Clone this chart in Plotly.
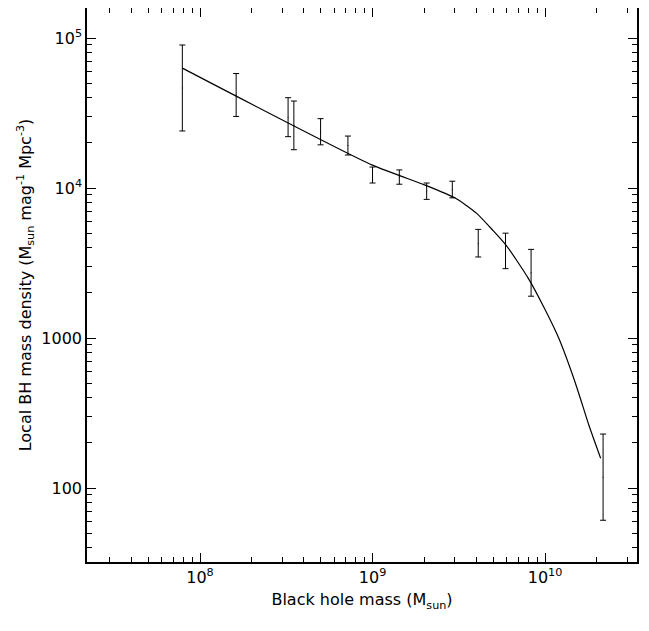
import numpy as np
import plotly.graph_objects as go

# error bar data: mass, upper, lower
mass = [7.9e7, 1.62e8, 3.24e8, 3.5e8, 5.0e8, 7.2e8, 1.0e9, 1.43e9, 2.06e9, 2.9e9, 4.1e9, 5.9e9, 8.3e9, 2.17e10]
upper = [8.98e4, 5.8e4, 4.0e4, 3.8e4, 2.9e4, 2.22e4, 1.38e4, 1.32e4, 1.08e4, 1.11e4, 5.3e3, 5.0e3, 3.9e3, 229]
lower = [2.4e4, 3.0e4, 2.2e4, 1.8e4, 1.94e4, 1.66e4, 1.08e4, 1.06e4, 8.4e3, 8.6e3, 3.47e3, 2.9e3, 1.9e3, 61]

# model curve
curve_m = [7.9e7, 1e9, 2e9, 3e9, 4e9, 5e9, 6e9, 8e9, 1e10, 1.2e10, 1.5e10, 1.8e10, 2.1e10]
curve_y = [6.3e4, 1.42e4, 1.05e4, 8.6e3, 6.8e3, 5.2e3, 4.1e3, 2.5e3, 1.55e3, 1.0e3, 5.0e2, 2.6e2, 1.58e2]

mid = np.sqrt(np.array(upper) * np.array(lower))

fig = go.Figure()
fig.add_trace(go.Scatter(
    x=mass, y=mid, mode="markers", marker=dict(size=1, color="black"),
    error_y=dict(type="data", symmetric=False, array=np.array(upper) - mid,
                 arrayminus=mid - np.array(lower), color="black", thickness=1, width=3),
    showlegend=False))
fig.add_trace(go.Scatter(x=curve_m, y=curve_y, mode="lines",
                         line=dict(color="black", width=1.2, shape="spline", smoothing=0.6),
                         showlegend=False))

font = dict(family="DejaVu Sans", size=16, color="black")
axis = dict(type="log", showline=True, linecolor="black", linewidth=1.5, mirror="allticks",
            ticks="inside", ticklen=9, tickcolor="black", showgrid=False, zeroline=False,
            automargin=False,
            minor=dict(ticks="inside", ticklen=5, tickcolor="black", dtick="D1"), tickfont=font)
fig.update_xaxes(axis, range=[7.345, 10.533], tickvals=[1e8, 1e9, 1e10],
                 ticktext=["10<sup>8</sup>", "10<sup>9</sup>", "10<sup>10</sup>"],
                 title=dict(text="Black hole mass (M<sub>sun</sub>)", font=font, standoff=8))
fig.update_yaxes(axis, range=[1.507, 5.2], tickvals=[100, 1000, 1e4, 1e5],
                 ticktext=["100", "1000", "10<sup>4</sup>", "10<sup>5</sup>"],
                 title=dict(text="Local BH mass density (M<sub>sun</sub> mag<sup>-1</sup> Mpc<sup>-3</sup>)",
                            font=font, standoff=6))
fig.update_layout(width=641, height=623, margin=dict(l=79, r=12, t=0, b=69),
                  plot_bgcolor="white", paper_bgcolor="white")
fig.write_html("out.html")
